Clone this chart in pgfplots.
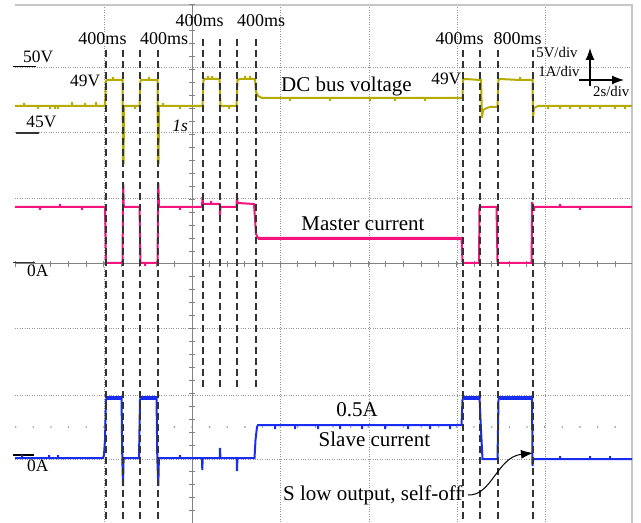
\documentclass[border=0pt]{standalone}
\usepackage{fontspec}
\setmainfont{Liberation Serif}
\usepackage{pgfplots}
\pgfplotsset{compat=1.18}
\usetikzlibrary{arrows.meta}
\definecolor{vy}{RGB}{182,172,0}
\definecolor{mp}{RGB}{245,20,125}
\definecolor{sb}{RGB}{25,45,240}
\definecolor{gridc}{RGB}{150,150,150}
\definecolor{axc}{RGB}{130,130,130}
\begin{document}
\begin{tikzpicture}
\begin{axis}[
 scale only axis, width=308.5pt, height=259pt,
 xmin=15, xmax=632, ymin=5, ymax=523, y dir=reverse,
 axis line style={draw=none},
 xtick={104,280,369,457,545}, ytick={68,133,199,329,395,459},
 xticklabels={}, yticklabels={}, major tick length=0pt,
 grid=major, major grid style={gridc, line width=0.5pt, dash pattern=on 0.5pt off 0.7pt},
 clip=false,
 every axis plot/.append style={line width=1pt, mark=none, line join=miter},
]
\coordinate (BL) at (axis cs:0,523);
\coordinate (TR) at (axis cs:641,0);
% frame
\draw[gray!45, line width=0.6pt] (axis cs:15,5) -- (axis cs:632,5) -- (axis cs:632,523);
% centre axes
\draw[axc, line width=0.5pt] (axis cs:15,264) -- (axis cs:632,264);
\draw[axc, line width=0.5pt] (axis cs:192,5) -- (axis cs:192,523);
\pgfplotsinvokeforeach{-10,...,24}{
  \draw[axc, line width=0.5pt] (axis cs:{192+17.63*#1},261) -- (axis cs:{192+17.63*#1},267);
  \fill[gridc] (axis cs:{192+17.63*#1},427) circle[radius=0.45pt];
}
\pgfplotsinvokeforeach{-20,...,20}{
  \draw[axc, line width=0.5pt] (axis cs:189,{264+12.95*#1}) -- (axis cs:195,{264+12.95*#1});
}
% level markers
\draw[black, line width=0.6pt] (axis cs:13,66.5) -- (axis cs:36,66.5);
\draw[black!80, line width=0.6pt] (axis cs:16,133) -- (axis cs:39,133);
\draw[black!80, line width=0.6pt] (axis cs:13,262.5) -- (axis cs:35,262.5);
\draw[black, line width=0.6pt] (axis cs:12.7,455) -- (axis cs:34.3,455);

% DC bus voltage
\addplot[vy] coordinates {(15,106)(24,106)(24,103)(24,106)(38,106)(38,109)(38,106)(50,106)(50,109)(50,106)(55,106)(55,109)(55,106)(58,106)(58,109)(58,106)(72,106)(72,102)(72,106)(85,106)(85,103)(85,106)(96,106)(96,102)(96,106)(105,106)(106,81)(107,80)(113,80)(113,77)(113,80)(122.5,80)(123,163)(123.6,163)(124,106)(135,106)(135,109)(135,106)(139.5,106)(140.5,81)(141,80)(149,80)(149,77)(149,80)(157.5,80)(158,163)(158.6,163)(159,106)(163,106)(163,103)(163,106)(180,106)(180,109)(180,106)(202.5,106)(203.5,80)(205,79)(208,79)(208,76)(208,79)(212,79)(212,76)(212,79)(219.5,79)(220.5,106)(229,106)(229,109)(229,106)(236.5,106)(237.5,80)(240,79)(245,79)(245,76)(245,79)(250,79)(250,76)(250,79)(255,79)(256,92)(258,96)(262,98)(290,98)(290,101)(290,98)(330,98)(330,101)(330,98)(370,98)(370,101)(370,98)(395,98)(395,101)(395,98)(425,98)(425,101)(425,98)(462.5,98)(463,80)(465,79)(480,80)(481,80)(482,118)(483,110)(487,108)(490,107)(497.5,107)(498.5,80)(500,79)(520,80)(520,77)(520,80)(532.5,80)(533,118)(534,108)(538,106)(548,106)(548,109)(548,106)(560,106)(560,109)(560,106)(570,106)(570,109)(570,106)(580,106)(580,109)(580,106)(590,106)(590,109)(590,106)(600,106)(600,109)(600,106)(615,106)(615,109)(615,106)(625,106)(625,109)(625,106)(632,106)};

% Master current
\addplot[mp] coordinates {(15,207)(40,207)(40,210)(40,207)(60,207)(60,204)(60,207)(82,207)(82,210)(82,207)(105,207)(106,262)(107,263)(122.5,263)(123.2,183)(123.8,207)(139.5,207)(140.5,262)(141,263)(145,263)(145,266)(145,263)(157.5,263)(158.3,183)(159,207)(180,207)(180,210)(180,207)(202,207)(202.5,197)(203,204)(211,204)(211,201)(211,204)(219.7,204)(220,216)(220.4,207)(236.5,207)(237,195)(237.6,203)(254,204)(256,234)(258,238)(461.5,238)(462.5,262)(463,263)(479,263)(479.5,207)(496.5,207)(497.5,262)(498,263)(531.5,263)(532.2,202)(533,207)(534,207)(534,211)(534,207)(560,207)(560,204)(560,207)(580,207)(580,210)(580,207)(632,207)};
\addplot[mp, line width=1.8pt] coordinates {(258,238.5)(461,238.5)};

% Slave current
\addplot[sb] coordinates {(15,458)(22,458)(22,455)(22,458)(49,458)(49,455)(49,458)(58,458)(58,455)(58,458)(103,458)(104,455)(105,440)(106,400)(107,397)(121.5,397)(122.3,458)(123,486)(123.6,458)(139,458)(140,400)(141,397)(156.5,397)(157.3,458)(158.3,486)(158.9,458)(180,458)(180,455)(180,458)(202,458)(202.3,470)(202.7,458)(219.7,458)(220,448)(220.4,458)(236.7,458)(237,471)(237.4,458)(254.5,458)(255.5,440)(257,427)(258,425)(275,425)(275,429)(275,425)(295,425)(295,429)(295,425)(318,425)(318,429)(318,425)(340,425)(340,429)(340,425)(362,425)(362,429)(362,425)(385,425)(385,429)(385,425)(408,425)(408,429)(408,425)(430,425)(430,429)(430,425)(450,425)(450,429)(450,425)(461.5,425)(462.5,400)(463.5,397)(479.5,397)(481,430)(482.5,459)(497.5,459)(498.5,400)(499.5,397)(532,397)(532.5,466)(533.2,459)(560,459)(560,456)(560,459)(590,459)(590,456)(590,459)(610,459)(610,456)(610,459)(632,459)};
\addplot[sb, line width=1.6pt] coordinates {(107,398)(121,398)};
\addplot[sb, line width=1.6pt] coordinates {(141,398)(156,398)};
\addplot[sb, line width=1.6pt] coordinates {(464,398)(479,398)};
\addplot[sb, line width=1.6pt] coordinates {(500,398)(531.5,398)};

% dashed markers
\pgfplotsinvokeforeach{106,123,140,158,463,480,498,533}{
  \draw[black!80, line width=0.7pt, dash pattern=on 3.5pt off 2pt] (axis cs:#1,50) -- (axis cs:#1,523);
}
\pgfplotsinvokeforeach{203,220,237,256}{
  \draw[black!80, line width=0.7pt, dash pattern=on 3.5pt off 2pt] (axis cs:#1,39) -- (axis cs:#1,388);
}

% labels
\tikzset{lbl/.style={anchor=base, inner sep=0pt, font=\fontsize{9}{10}\selectfont}}
\node[lbl] at (axis cs:102.5,45) {400ms};
\node[lbl] at (axis cs:164,45) {400ms};
\node[lbl] at (axis cs:199.5,27) {400ms};
\node[lbl] at (axis cs:261,27) {400ms};
\node[lbl] at (axis cs:459.5,45) {400ms};
\node[lbl] at (axis cs:517.7,45) {800ms};
\tikzset{vl/.style={inner sep=0pt, font=\fontsize{8.7}{10}\selectfont}}
\node[vl, anchor=base east] at (axis cs:100.5,87) {49V};
\node[vl, anchor=base east] at (axis cs:461.7,85) {49V};
\node[vl, anchor=base west] at (axis cs:22.7,62.7) {50V};
\node[vl, anchor=base west] at (axis cs:26,128) {45V};
\node[vl, anchor=base west] at (axis cs:26.7,277) {0A};
\node[vl, anchor=base west] at (axis cs:26.7,471) {0A};
\node[vl, anchor=base west] at (axis cs:172,131.7) {\textit{1s}};
\tikzset{ml/.style={inner sep=0pt, anchor=base west, font=\fontsize{10.5}{12}\selectfont}}
\node[ml] at (axis cs:280.7,92) {DC bus voltage};
\node[ml] at (axis cs:301,231) {Master current};
\node[ml] at (axis cs:336,416.7) {0.5A};
\node[ml] at (axis cs:318.3,446.7) {Slave current};
\node[ml] at (axis cs:282.7,500) {S low output, self-off};
\tikzset{dl/.style={inner sep=0pt, anchor=base west, font=\fontsize{7.4}{9}\selectfont}}
\node[dl] at (axis cs:536,57.7) {5V/div};
\node[dl] at (axis cs:538,76.7) {1A/div};
\node[dl] at (axis cs:592.7,97) {2s/div};
\draw[black, line width=0.6pt, -{Latex[length=6pt,width=4.5pt]}] (axis cs:590,86) -- (axis cs:590,48);
\draw[black, line width=0.6pt, -{Latex[length=6pt,width=4.5pt]}] (axis cs:579,80) -- (axis cs:624,80);
\draw[black, line width=0.5pt, -{Latex[length=6pt,width=4.5pt]}] (axis cs:468,495) .. controls (axis cs:492,496) and (axis cs:497,457) .. (axis cs:533,453);
\end{axis}
\pgfresetboundingbox
\path[use as bounding box] (BL) rectangle (TR);
\end{tikzpicture}
\end{document}
